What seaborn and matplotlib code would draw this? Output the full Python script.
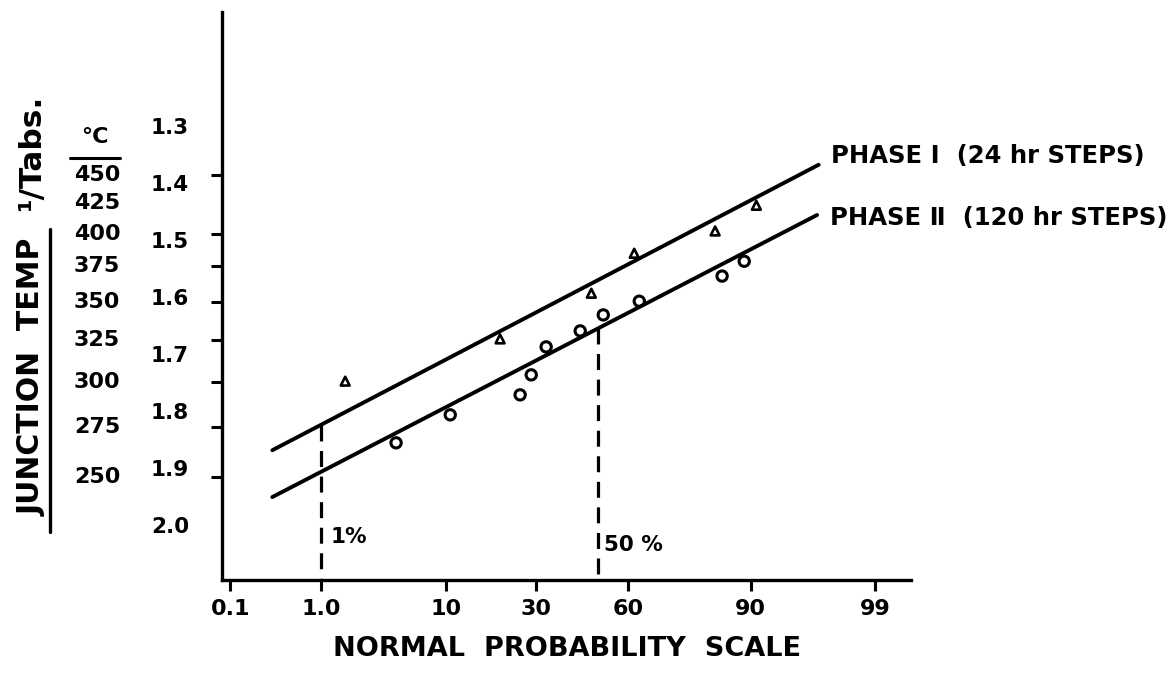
import numpy as np
import matplotlib
matplotlib.use("Agg")
import matplotlib.pyplot as plt
import matplotlib.transforms as mtransforms
from matplotlib.lines import Line2D
import seaborn as sns
from statistics import NormalDist

# Cumulative failures (%) on a normal probability scale vs 1000/T_abs (1/K x 10^3)
phase1_pct = [1.68, 20.5, 47.7, 61.9, 83.7, 90.8]
phase1_inv_t = [1.744, 1.670, 1.590, 1.520, 1.481, 1.436]
phase2_pct = [4.48, 10.7, 25.6, 28.7, 33.1, 44.0, 51.7, 63.5, 85.1, 89.0]
phase2_inv_t = [1.852, 1.803, 1.768, 1.733, 1.684, 1.656, 1.628, 1.604, 1.560, 1.534]

# Straight-line fits, given by their end points
fit1_pct = [0.31, 96.8]
fit1_inv_t = [1.865, 1.365]
fit2_pct = [0.31, 96.7]
fit2_inv_t = [1.947, 1.453]

phase_labels = ["PHASE \u2160  (24 hr STEPS)", "PHASE \u2161  (120 hr STEPS)"]

x_ticks = [0.1, 1.0, 10, 30, 60, 90, 99]
x_tick_labels = ["0.1", "1.0", "10", "30", "60", "90", "99"]
temp_tick_c = [450, 400, 375, 350, 325, 300, 275, 250]
temp_label_c = [450, 425, 400, 375, 350, 325, 300, 275, 250]
inv_t_labels = [1.3, 1.4, 1.5, 1.6, 1.7, 1.8, 1.9, 2.0]
marked_pct = [1, 50]
marked_text = ["1%", "50 %"]

_nd = NormalDist()


def probit(p):
    p = np.clip(np.asarray(p, dtype=float) / 100.0, 1e-9, 1 - 1e-9)
    return np.vectorize(_nd.inv_cdf, otypes=[float])(p)


def inv_probit(z):
    z = np.asarray(z, dtype=float)
    return np.vectorize(_nd.cdf, otypes=[float])(z) * 100.0


def inv_t_of_c(t_c):
    return 1000.0 / (np.asarray(t_c, dtype=float) + 273.15)


sns.set_theme(style="ticks")
plt.rcParams["font.family"] = ["DejaVu Sans"]
plt.rcParams["font.weight"] = "bold"
for key in ["text.color", "axes.labelcolor", "xtick.color", "ytick.color",
            "axes.edgecolor"]:
    plt.rcParams[key] = "black"

fig = plt.figure(figsize=(11.74, 6.78), dpi=100)
ax = fig.add_axes([0.1891, 0.1445, 0.5869, 0.8378])
ax.set_xscale("function", functions=(probit, inv_probit))

# fitted lines
sns.lineplot(x=fit1_pct, y=fit1_inv_t, ax=ax, color="black", lw=2.8, sort=False)
sns.lineplot(x=fit2_pct, y=fit2_inv_t, ax=ax, color="black", lw=2.8, sort=False)

# data points
sns.scatterplot(x=phase1_pct, y=phase1_inv_t, ax=ax, marker="^", s=40,
                facecolor="none", edgecolor="black", linewidth=1.9, zorder=3)
sns.scatterplot(x=phase2_pct, y=phase2_inv_t, ax=ax, marker="o", s=55,
                facecolor="none", edgecolor="black", linewidth=2.2, zorder=3)

ax.set_xlim(0.079, 99.57)
ax.set_ylim(2.0923, 1.0975)

# dashed read-off lines at 1% (upper fit) and 50% (lower fit)
z1 = probit(fit1_pct)
z2 = probit(fit2_pct)
tops = [np.interp(probit(marked_pct[0]), z1, fit1_inv_t),
        np.interp(probit(marked_pct[1]), z2, fit2_inv_t)]
for pct, top, txt, ty, dx in zip(marked_pct, tops, marked_text,
                                 [2.017, 2.031], [7, 4]):
    ax.plot([pct, pct], [top, ax.get_ylim()[0]], color="black", lw=2.3,
            ls=(0, (5, 3)), clip_on=False)
    ax.annotate(txt, xy=(pct, ty), xytext=(dx, 0), textcoords="offset points",
                ha="left", va="center", fontsize=15.5, fontweight="bold")

# series labels at the right end of each fitted line
for xs, ys, lab, dy in [(fit1_pct, fit1_inv_t, phase_labels[0], 6),
                        (fit2_pct, fit2_inv_t, phase_labels[1], -2)]:
    ax.annotate(lab, xy=(xs[-1], ys[-1]), xytext=(9, dy),
                textcoords="offset points", ha="left", va="center",
                fontsize=17.5, fontweight="bold", annotation_clip=False)

# axes styling
sns.despine(ax=ax)
for side in ["left", "bottom"]:
    ax.spines[side].set_linewidth(2.4)
ax.tick_params(axis="both", direction="out", width=2.2, length=8)
ax.set_xticks(x_ticks)
ax.set_xticklabels(x_tick_labels, fontsize=16, fontweight="bold")
ax.tick_params(axis="x", pad=6)
ax.set_yticks(inv_t_of_c(temp_tick_c))
ax.set_yticklabels([])
ax.minorticks_off()
ax.set_xlabel("NORMAL  PROBABILITY  SCALE", fontsize=19.5, fontweight="bold",
              labelpad=12)
ax.set_ylabel("")

# two label columns on the y axis: deg C and 1000/T_abs
tr = mtransforms.blended_transform_factory(fig.transFigure, ax.transData)
for t in temp_label_c:
    ax.text(0.0826, inv_t_of_c(t), str(t), transform=tr, ha="center",
            va="center", fontsize=16, fontweight="bold")
for v in inv_t_labels:
    ax.text(0.1448, v, f"{v:.1f}", transform=tr, ha="center", va="center",
            fontsize=15.5, fontweight="bold")

fig.text(0.081, 0.798, "\u00b0C", ha="center", va="center", fontsize=16,
         fontweight="bold")
fig.add_artist(Line2D([0.060, 0.102], [0.767, 0.767], color="black", lw=2.2,
                      transform=fig.transFigure))

fig.text(0.027, 0.444, "JUNCTION  TEMP", rotation=90, ha="center",
         va="center", fontsize=21.5, fontweight="bold")
fig.text(0.027, 0.775, "\u00b9/Tabs.", rotation=90, ha="center", va="center",
         fontsize=22.5, fontweight="bold")
fig.add_artist(Line2D([0.043, 0.043], [0.216, 0.662], color="black", lw=2.4,
                      transform=fig.transFigure))

fig.savefig("out.png", dpi=100, facecolor="white")
